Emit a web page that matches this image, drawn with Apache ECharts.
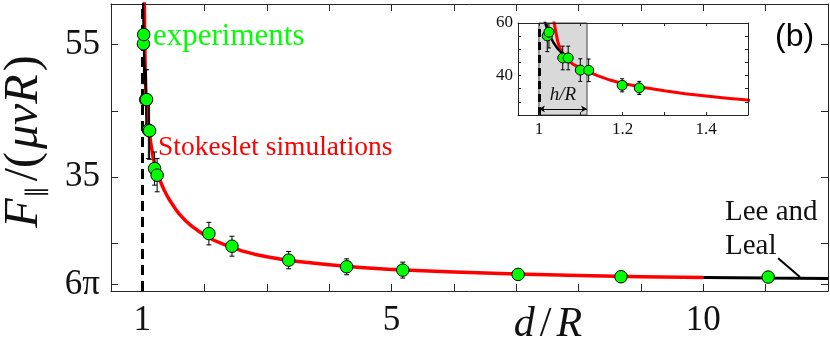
<!DOCTYPE html>
<html><head><meta charset="utf-8">
<script src="https://cdn.jsdelivr.net/npm/echarts@6/dist/echarts.min.js"></script>
<style>html,body{margin:0;padding:0;background:#fff}#c{width:830px;height:347px}</style>
</head><body><div id="c"></div>
<script>
// ---- data ----
const expX   = [1.02, 1.024, 1.057, 1.07, 1.099, 1.119, 1.199, 1.24, 2.07, 2.44, 3.35, 4.28, 5.18, 7.03, 8.68, 11.04];
const expY   = [55.1, 56.5, 46.7, 46.7, 42.1, 42.0, 36.3, 35.3, 26.5, 24.6, 22.5, 21.5, 21.0, 20.35, 20.0, 19.95];
const expErr = [6.0, 6.0, 4.5, 4.5, 4.3, 4.3, 2.5, 2.5, 1.7, 1.5, 1.3, 1.2, 1.2, 0.8, 0.8, 0.7];

const stokesX = [1.033, 1.036, 1.04, 1.045, 1.05, 1.06, 1.07, 1.08, 1.09, 1.1, 1.12, 1.14, 1.17, 1.2, 1.22, 1.25, 1.27, 1.3, 1.35, 1.4, 1.45, 1.5, 1.55, 1.6, 1.7, 1.8, 1.9, 2.0, 2.15, 2.3, 2.45, 2.6, 2.8, 3.0, 3.25, 3.5, 4.0, 4.5, 5.0, 6.0, 7.0, 8.0, 9.0, 10.0];
const stokesY = [62.0, 60.5, 57.0, 53.0, 50.5, 47.5, 45.8, 44.5, 43.6, 42.8, 41.3, 40.0, 38.3, 37.0, 36.4, 35.5, 35.0, 34.2, 33.1, 32.2, 31.4, 30.7, 30.0, 29.4, 28.4, 27.6, 26.9, 26.3, 25.5, 24.9, 24.4, 23.9, 23.4, 23.0, 22.6, 22.3, 21.8, 21.4, 21.1, 20.7, 20.4, 20.2, 20.0, 19.9];

const leeLealX = [10.0, 11.0, 12.0];
const leeLealY = [19.9, 19.82, 19.75];

const lubX = [1.012, 1.015, 1.025, 1.035, 1.045, 1.055, 1.065];
const lubY = [62.0, 60.0, 55.5, 52.5, 50.2, 48.5, 47.2];

const mainXTicks  = [1, 2, 3, 4, 5, 6, 7, 8, 9, 10, 11, 12];
const mainXLabels = [1, 5, 10];
const mainYTicks  = [18.85, 25, 35, 45, 55];
const mainYLabels = [18.85, 35, 55];

const insetXTicks  = [1, 1.1, 1.2, 1.3, 1.4, 1.5];
const insetXLabels = [1, 1.2, 1.4];
const insetYTicks  = [25, 30, 35, 40, 45, 50, 55, 60];
const insetYLabels = [40, 60];

const wallX = 1;
const hOverR = 1.115;
const hArrowY = 27.3;
const leeArrow = [[11.2, 22.8], [11.55, 19.95]];

// ---- build ----
const zip = (a, b) => a.map((v, i) => [v, b[i]]);
const AX = '#262626';
const SERIF = 'Liberation Serif';

function boxAxis(extra) {
  return Object.assign({
    type: 'value',
    axisLine: { show: true, onZero: false, lineStyle: { color: AX, width: 1 } },
    splitLine: { show: false },
  }, extra);
}

const mainX = { min: 0.5, max: 12 };
const mainY = { min: 17.85, max: 61.1 };
const inX = { min: 0.95, max: 1.5 };
const inY = { min: 25, max: 60 };

const tickMain = (vals) => ({ show: true, inside: true, length: 7, customValues: vals, lineStyle: { color: AX, width: 1 } });
const tickIn = (vals) => ({ show: true, inside: true, length: 3, customValues: vals, lineStyle: { color: AX, width: 1 } });

function errSeries(xi, yi, cap) {
  return {
    type: 'custom', xAxisIndex: xi, yAxisIndex: yi, z: 4, clip: true,
    data: expX.map((x, i) => [x, expY[i] - expErr[i], expY[i] + expErr[i]]),
    renderItem: function (params, api) {
      const p1 = api.coord([api.value(0), api.value(1)]);
      const p2 = api.coord([api.value(0), api.value(2)]);
      const st = { stroke: '#000', lineWidth: 1 };
      return { type: 'group', children: [
        { type: 'line', shape: { x1: p1[0], y1: p1[1], x2: p2[0], y2: p2[1] }, style: st },
        { type: 'line', shape: { x1: p1[0] - cap, y1: p1[1], x2: p1[0] + cap, y2: p1[1] }, style: st },
        { type: 'line', shape: { x1: p2[0] - cap, y1: p2[1], x2: p2[0] + cap, y2: p2[1] }, style: st }
      ]};
    }
  };
}

const chart = echarts.init(document.getElementById('c'), null, { renderer: 'canvas' });

const option = {
  animation: false,
  backgroundColor: '#fff',
  grid: [
    { left: 111, right: 2, top: 4, bottom: 56, outerBoundsMode: 'none', containLabel: false },
    { left: 518, top: 23, width: 230, height: 92, outerBoundsMode: 'none', containLabel: false }
  ],
  xAxis: [
    boxAxis(Object.assign({ gridIndex: 0, position: 'bottom', axisTick: tickMain(mainXTicks),
      axisLabel: { customValues: mainXLabels, margin: 12, fontFamily: SERIF, fontSize: 35, color: '#111' } }, mainX)),
    boxAxis(Object.assign({ gridIndex: 0, position: 'top', axisTick: tickMain(mainXTicks), axisLabel: { show: false } }, mainX)),
    boxAxis(Object.assign({ gridIndex: 1, position: 'bottom', axisTick: tickIn(insetXTicks), z: 8,
      axisLabel: { customValues: insetXLabels, margin: 6, fontFamily: SERIF, fontSize: 17, color: '#111' } }, inX)),
    boxAxis(Object.assign({ gridIndex: 1, position: 'top', axisTick: tickIn(insetXTicks), axisLabel: { show: false }, z: 8 }, inX))
  ],
  yAxis: [
    boxAxis(Object.assign({ gridIndex: 0, position: 'left', axisTick: tickMain(mainYTicks),
      axisLabel: { customValues: mainYLabels, margin: 11, fontFamily: SERIF, fontSize: 35, color: '#111',
        formatter: v => (Math.abs(v - 18.85) < 0.01 ? '6π' : String(v)) } }, mainY)),
    boxAxis(Object.assign({ gridIndex: 0, position: 'right', axisTick: tickMain(mainYTicks), axisLabel: { show: false } }, mainY)),
    boxAxis(Object.assign({ gridIndex: 1, position: 'left', axisTick: tickIn(insetYTicks), z: 8,
      axisLabel: { customValues: insetYLabels, margin: 5, fontFamily: SERIF, fontSize: 17, color: '#111' } }, inY)),
    boxAxis(Object.assign({ gridIndex: 1, position: 'right', axisTick: tickIn(insetYTicks), axisLabel: { show: false }, z: 8 }, inY))
  ],
  series: [
    // main plot
    { type: 'line', xAxisIndex: 0, yAxisIndex: 0, data: [], z: 1, silent: true,
      markLine: { silent: true, symbol: 'none', label: { show: false },
        lineStyle: { color: '#000', width: 3, type: [10, 6] }, data: [{ xAxis: wallX }] } },
    { type: 'line', xAxisIndex: 0, yAxisIndex: 0, data: zip(stokesX, stokesY), symbol: 'none', clip: true, z: 2,
      lineStyle: { color: '#ff0000', width: 3.5, join: 'round' } },
    { type: 'line', xAxisIndex: 0, yAxisIndex: 0, data: zip(lubX, lubY), symbol: 'none', clip: true, z: 2,
      lineStyle: { color: '#000', width: 2 } },
    { type: 'line', xAxisIndex: 0, yAxisIndex: 0, data: zip(leeLealX, leeLealY), symbol: 'none', clip: true, z: 2,
      lineStyle: { color: '#000', width: 3 },
      markLine: { silent: true, symbol: ['none', 'arrow'], symbolSize: [0, 11], label: { show: false },
        lineStyle: { color: '#000', width: 2, type: 'solid' },
        data: [[{ coord: leeArrow[0] }, { coord: leeArrow[1] }]] } },
    errSeries(0, 0, 2.5),
    { type: 'scatter', xAxisIndex: 0, yAxisIndex: 0, data: zip(expX, expY), symbol: 'circle', symbolSize: 12.5, z: 5,
      itemStyle: { color: '#00ff00', borderColor: '#000', borderWidth: 1, opacity: 1 } },

    // inset
    { type: 'line', xAxisIndex: 2, yAxisIndex: 2, data: zip(stokesX, stokesY), symbol: 'none', clip: true, z: 7,
      lineStyle: { color: '#ff0000', width: 3, join: 'round' },
      markArea: { silent: true, z: 1, itemStyle: { color: '#d9d9d9', borderColor: '#444', borderWidth: 1, opacity: 1 },
        data: [[{ coord: [wallX, inY.min] }, { coord: [hOverR, inY.max] }]] } },
    { type: 'line', xAxisIndex: 2, yAxisIndex: 2, data: [], z: 7, silent: true,
      markLine: { silent: true, z: 6, symbol: 'none', label: { show: false },
        lineStyle: { color: '#000', width: 3, type: [8, 5] }, data: [{ xAxis: wallX }] } },
    { type: 'line', xAxisIndex: 2, yAxisIndex: 2, data: zip(lubX, lubY), symbol: 'none', clip: true, z: 7,
      lineStyle: { color: '#000', width: 2.5 },
      markLine: { silent: true, z: 6, symbol: ['arrow', 'arrow'], symbolSize: [5, 6], label: { show: false },
        lineStyle: { color: '#000', width: 1, type: 'solid' },
        data: [[{ coord: [wallX, hArrowY] }, { coord: [hOverR, hArrowY] }]] } },
    Object.assign(errSeries(2, 2, 2), { z: 8 }),
    { type: 'scatter', xAxisIndex: 2, yAxisIndex: 2, data: zip(expX, expY), symbol: 'circle', symbolSize: 10, z: 9, clip: true,
      itemStyle: { color: '#00ff00', borderColor: '#000', borderWidth: 1, opacity: 1 } }
  ],
  graphic: [
    { type: 'text', z: 20, style: { text: 'experiments', x: 153, y: 37, fill: '#00ff00', font: '31px "Liberation Serif"', textVerticalAlign: 'middle' } },
    { type: 'text', z: 20, style: { text: 'Stokeslet simulations', x: 158, y: 148, fill: '#ff0000', font: '27.5px "Liberation Serif"', textVerticalAlign: 'middle' } },
    { type: 'text', z: 20, style: { text: 'Lee and', x: 725, y: 212, fill: '#111', font: '29px "Liberation Serif"', textVerticalAlign: 'middle' } },
    { type: 'text', z: 20, style: { text: 'Leal', x: 725, y: 246, fill: '#111', font: '29px "Liberation Serif"', textVerticalAlign: 'middle' } },
    { type: 'text', z: 20, style: { text: '(b)', x: 775, y: 37, fill: '#000', font: '32px "Liberation Sans"', textVerticalAlign: 'middle' } },
    { type: 'text', z: 20, style: { text: '{i|d}{r|/}{i|R}', x: 548, y: 325, textAlign: 'center', textVerticalAlign: 'middle',
      rich: { i: { fontFamily: SERIF, fontStyle: 'italic', fontSize: 42, fill: '#111' },
              r: { fontFamily: SERIF, fontSize: 42, fill: '#111', padding: [0, 5, 0, 5] } } } },
    { type: 'text', z: 20, style: { text: 'h/R', x: 563, y: 95, fill: '#111', font: 'italic 19px "Liberation Serif"', textAlign: 'center', textVerticalAlign: 'middle' } },
    { type: 'text', z: 20, rotation: Math.PI / 2, x: 24, y: 140,
      style: { text: '{i|F}{s|∥}{r|/(}{i|μvR}{r|)}', x: 0, y: 0, textAlign: 'center', textVerticalAlign: 'middle',
        rich: {
          i: { fontFamily: SERIF, fontStyle: 'italic', fontSize: 48, fill: '#111' },
          r: { fontFamily: SERIF, fontSize: 48, fill: '#111', padding: [0, 3, 0, 3] },
          s: { fontFamily: SERIF, fontSize: 24, fill: '#111', verticalAlign: 'bottom', padding: [26, 2, 0, 0] }
        } } }
  ]
};
chart.setOption(option);
</script>
</body></html>
